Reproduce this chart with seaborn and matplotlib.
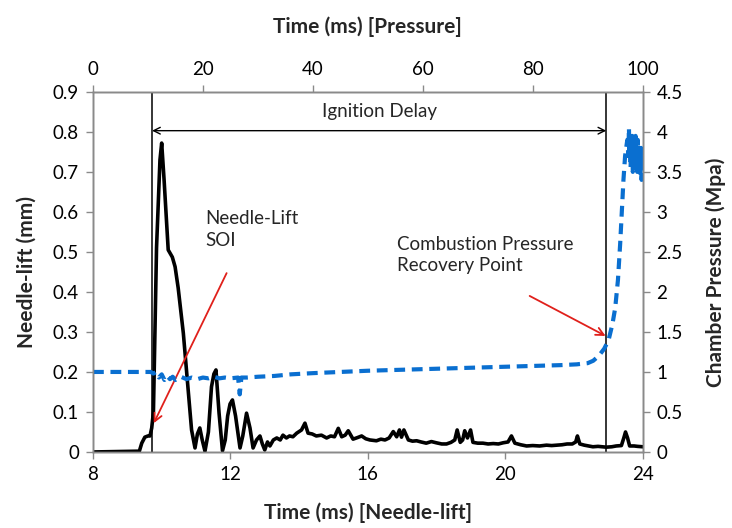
import matplotlib
matplotlib.use("Agg")
import matplotlib.pyplot as plt
import seaborn as sns
import pandas as pd

# ---- data ----
needle_time = [8.0, 9.35, 9.42, 9.51, 9.6, 9.66, 9.71, 9.76, 9.85, 9.95, 10.0, 10.07, 10.19,
               10.31, 10.39, 10.48, 10.63, 10.77, 10.87, 10.97, 11.04, 11.11, 11.18, 11.26,
               11.36, 11.45, 11.52, 11.58, 11.67, 11.77, 11.85, 11.92, 11.99, 12.06, 12.15,
               12.28, 12.36, 12.47, 12.57, 12.66, 12.76, 12.86, 12.93, 13.0, 13.08, 13.15,
               13.25, 13.35, 13.45, 13.53, 13.63, 13.72, 13.82, 13.93, 14.07, 14.17, 14.26,
               14.38, 14.5, 14.65, 14.8, 14.92, 15.03, 15.14, 15.24, 15.34, 15.43, 15.57,
               15.7, 15.82, 15.94, 16.06, 16.25, 16.38, 16.5, 16.62, 16.74, 16.84, 16.92,
               16.98, 17.05, 17.18, 17.3, 17.42, 17.55, 17.7, 17.85, 17.99, 18.15, 18.29,
               18.42, 18.53, 18.6, 18.69, 18.76, 18.82, 18.9, 18.99, 19.06, 19.2, 19.35,
               19.5, 19.65, 19.8, 19.94, 20.08, 20.18, 20.28, 20.45, 20.62, 20.8, 21.0,
               21.2, 21.35, 21.49, 21.65, 21.8, 21.95, 22.05, 22.1, 22.17, 22.3, 22.42,
               22.55, 22.7, 22.94, 23.1, 23.23, 23.38, 23.45, 23.5, 23.56, 23.62, 23.75,
               23.85, 24.0]
needle_lift = [0.0, 0.002, 0.022, 0.037, 0.04, 0.04, 0.06, 0.1, 0.51, 0.73, 0.772, 0.68, 0.505,
               0.487, 0.463, 0.41, 0.297, 0.155, 0.055, 0.01, 0.045, 0.06, 0.03, 0.002,
               0.05, 0.163, 0.195, 0.205, 0.097, 0.003, 0.03, 0.09, 0.12, 0.13, 0.09,
               0.01, 0.04, 0.097, 0.06, 0.01, 0.03, 0.04, 0.02, 0.005, 0.025, 0.015,
               0.03, 0.035, 0.03, 0.042, 0.035, 0.04, 0.038, 0.047, 0.055, 0.072, 0.047,
               0.045, 0.04, 0.042, 0.035, 0.04, 0.038, 0.059, 0.038, 0.042, 0.053, 0.032,
               0.036, 0.04, 0.033, 0.03, 0.028, 0.032, 0.03, 0.035, 0.051, 0.038, 0.055,
               0.037, 0.055, 0.03, 0.027, 0.028, 0.025, 0.022, 0.026, 0.023, 0.02, 0.02,
               0.024, 0.03, 0.055, 0.024, 0.03, 0.053, 0.035, 0.055, 0.024, 0.022, 0.022,
               0.02, 0.021, 0.02, 0.023, 0.025, 0.04, 0.022, 0.018, 0.015, 0.016, 0.015,
               0.017, 0.016, 0.017, 0.018, 0.02, 0.02, 0.025, 0.04, 0.02, 0.017, 0.015,
               0.013, 0.014, 0.012, 0.013, 0.015, 0.016, 0.035, 0.05, 0.035, 0.015, 0.015,
               0.014, 0.013]

pressure_time = [0, 5, 10.5, 11, 11.5, 12, 12.5, 13, 13.5, 14, 14.5, 15, 16, 17, 18, 19, 20,
                 21, 22, 23, 24, 25, 26.4, 26.7, 27.0, 28, 30, 33, 36, 40, 45, 50, 55, 60,
                 65, 70, 75, 80, 85, 88, 90, 91, 92, 93, 93.8, 94.5, 95, 95.5, 95.9, 96.2,
                 96.5, 96.8, 97.2, 97.4, 97.5, 97.6, 97.7, 97.8, 97.9, 98.0, 98.1, 98.2,
                 98.3, 98.4, 98.5, 98.6, 98.7, 98.8, 98.9, 99.0, 99.1, 99.2, 99.3, 99.4,
                 99.5, 99.6, 99.7, 99.8, 100]
pressure = [1.0, 1.0, 1.0, 0.98, 1.0, 0.93, 0.97, 0.9, 0.95, 0.91, 0.94, 0.9, 0.94, 0.91,
            0.93, 0.91, 0.93, 0.92, 0.94, 0.92, 0.93, 0.92, 0.93, 0.72, 0.93, 0.93, 0.94,
            0.95, 0.97, 0.985, 1.0, 1.015, 1.025, 1.035, 1.045, 1.055, 1.065, 1.075, 1.085,
            1.095, 1.11, 1.14, 1.2, 1.29, 1.4, 1.6, 1.8, 2.15, 2.6, 3.0, 3.4, 3.7, 3.9,
            3.7, 4.05, 3.65, 3.95, 3.55, 3.9, 3.6, 3.95, 3.5, 3.85, 3.6, 3.9, 3.55, 3.95,
            3.6, 3.85, 3.5, 3.9, 3.55, 3.8, 3.5, 3.75, 3.45, 3.8, 3.4, 3.6]

left_ticks = [0, 0.1, 0.2, 0.3, 0.4, 0.5, 0.6, 0.7, 0.8, 0.9]
left_labels = ["0", "0.1", "0.2", "0.3", "0.4", "0.5", "0.6", "0.7", "0.8", "0.9"]
right_ticks = [0, 0.5, 1, 1.5, 2, 2.5, 3, 3.5, 4, 4.5]
right_labels = ["0", "0.5", "1", "1.5", "2", "2.5", "3", "3.5", "4", "4.5"]
bottom_ticks = [8, 12, 16, 20, 24]
top_ticks = [0, 20, 40, 60, 80, 100]

soi_time = 9.72
recovery_time = 22.94

# ---- style ----
sns.set_theme(style="white")
plt.rcParams["font.family"] = ["Lato", "DejaVu Sans"]
gray = "#8a8a8a"

fig = plt.figure(figsize=(7.32, 5.28), dpi=100)
ax = fig.add_axes([0.127, 0.144, 0.751, 0.682])
ax_r = ax.twinx()
ax_t = ax_r.twiny()

needle_df = pd.DataFrame({"t": needle_time, "lift": needle_lift})
press_df = pd.DataFrame({"t": pressure_time, "p": pressure})

sns.lineplot(data=needle_df, x="t", y="lift", ax=ax, color="black", lw=2.6,
             estimator=None, sort=False, zorder=3)
sns.lineplot(data=press_df, x="t", y="p", ax=ax_t, color="#0a6fd0", lw=3.0,
             estimator=None, sort=False)
ax_t.lines[0].set_dashes([2.6, 1.6])

ax.set_xlim(8, 24)
ax.set_ylim(0, 0.9)
ax_r.set_ylim(0, 4.5)
ax_t.set_xlim(0, 100)

ax.set_xticks(bottom_ticks)
ax.set_xticklabels([str(v) for v in bottom_ticks])
ax.set_yticks(left_ticks)
ax.set_yticklabels(left_labels)
ax_r.set_yticks(right_ticks)
ax_r.set_yticklabels(right_labels)
ax_t.set_xticks(top_ticks)
ax_t.set_xticklabels([str(v) for v in top_ticks])

for a in (ax, ax_r, ax_t):
    for s in a.spines.values():
        s.set_color(gray)
        s.set_linewidth(1.0)
    a.tick_params(colors=gray, labelcolor="black", labelsize=13.5, length=5, width=1,
                  direction="out", pad=5)
    a.set_xlabel("")
    a.set_ylabel("")

ax.tick_params(axis="x", bottom=True, top=False, labelbottom=True, labeltop=False)
ax.tick_params(axis="y", left=True, right=False, labelleft=True, labelright=False)
ax_r.tick_params(axis="y", right=True, left=False, labelright=True, labelleft=False)
ax_t.tick_params(axis="x", top=True, bottom=False, labeltop=True, labelbottom=False)
ax_t.tick_params(axis="y", left=False, right=False, labelleft=False, labelright=False)

lab_kw = dict(fontsize=15, fontweight="bold")
ax.set_xlabel("Time (ms) [Needle-lift]", labelpad=14, **lab_kw)
ax.set_ylabel("Needle-lift (mm)", labelpad=12, **lab_kw)
ax_r.set_ylabel("Chamber Pressure (Mpa)", labelpad=16, **lab_kw)
ax_t.set_xlabel("Time (ms) [Pressure]", labelpad=20, **lab_kw)

# vertical markers
ax.axvline(soi_time, color="black", lw=1.1, zorder=4)
ax.axvline(recovery_time, color="black", lw=1.1, zorder=4)

# ignition delay arrow
ax.annotate("", xy=(soi_time, 0.803), xytext=(recovery_time, 0.803),
            arrowprops=dict(arrowstyle="<->", color="black", lw=1.0,
                            shrinkA=0, shrinkB=0, mutation_scale=12))
ax.text((soi_time + recovery_time) / 2, 0.85, "Ignition Delay", ha="center",
        va="center", fontsize=13.5)

# red annotations
ax.annotate("", xy=(9.77, 0.072), xytext=(11.89, 0.447),
            arrowprops=dict(arrowstyle="->", color="#e0201b", lw=1.3,
                            shrinkA=0, shrinkB=0, mutation_scale=14), zorder=5)
ax.text(11.26, 0.556, "Needle-Lift\nSOI", ha="left", va="center", fontsize=13.5,
        linespacing=1.3)
ax.annotate("", xy=(22.92, 0.29), xytext=(20.71, 0.39),
            arrowprops=dict(arrowstyle="->", color="#e0201b", lw=1.3,
                            shrinkA=0, shrinkB=0, mutation_scale=14), zorder=5)
ax.text(16.84, 0.492, "Combustion Pressure\nRecovery Point", ha="left", va="center",
        fontsize=13.5, linespacing=1.3)

fig.savefig("out.png", dpi=100)
